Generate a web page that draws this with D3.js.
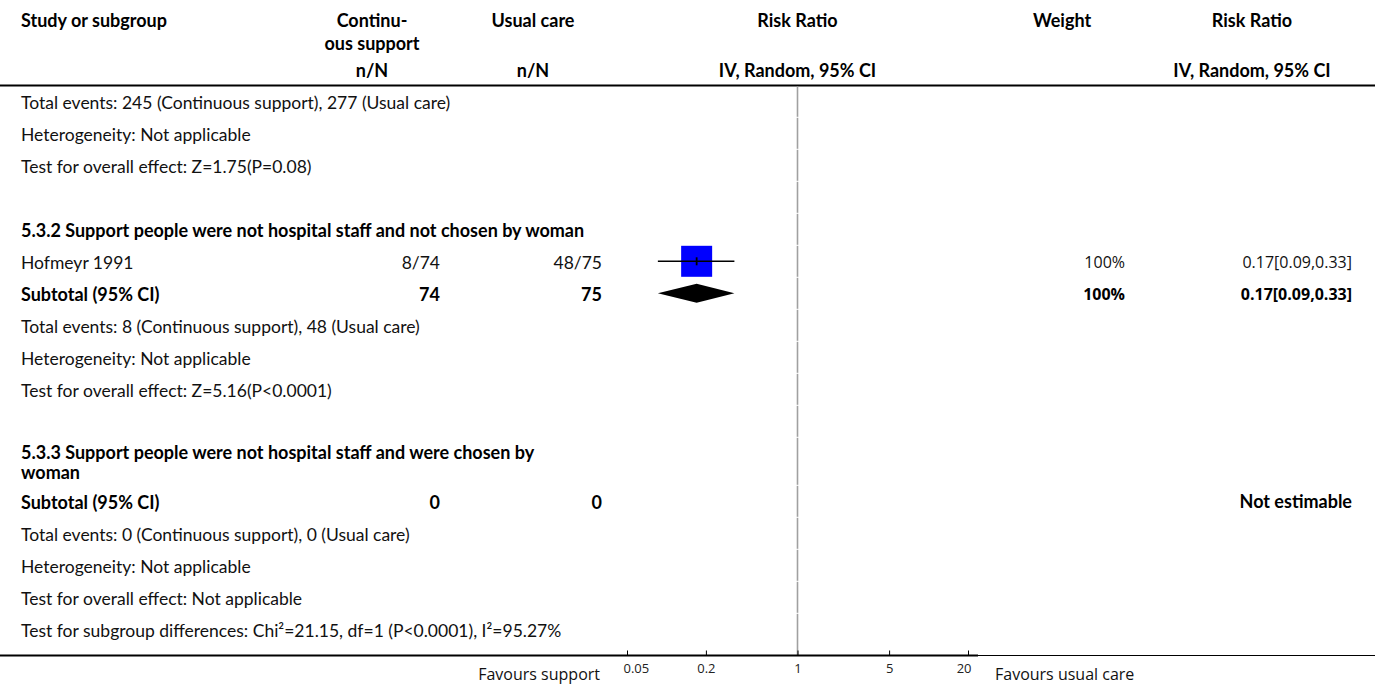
<!DOCTYPE html>
<html><head><meta charset="utf-8">
<script src="https://cdn.jsdelivr.net/npm/d3@7"></script>
<style>
html,body{margin:0;padding:0;background:#fff;}
svg{display:block;}
.t{font-family:Lato,"Noto Sans",sans-serif;font-size:17.5px;fill:#111;}
.b{font-family:Lato,"Noto Sans",sans-serif;font-weight:bold;font-size:18px;fill:#000;}
.o{font-family:"Open Sans","Noto Sans",sans-serif;font-size:16px;fill:#111;}
.ob{font-weight:bold;fill:#000;}
</style></head><body>
<svg id="c" width="1375" height="686"></svg>
<script>
// ---- data ----
const rowKinds = ["note","note","note","blank","heading","study","subtotal","note","note","note","blank","heading2","subtotal","note","note","note","note"];
const rowLabels = [
  "Total events: 245 (Continuous support), 277 (Usual care)",
  "Heterogeneity: Not applicable",
  "Test for overall effect: Z=1.75(P=0.08)",
  "",
  "5.3.2 Support people were not hospital staff and not chosen by woman",
  "Hofmeyr 1991",
  "Subtotal (95% CI)",
  "Total events: 8 (Continuous support), 48 (Usual care)",
  "Heterogeneity: Not applicable",
  "Test for overall effect: Z=5.16(P<0.0001)",
  "",
  "5.3.3 Support people were not hospital staff and were chosen by|woman",
  "Subtotal (95% CI)",
  "Total events: 0 (Continuous support), 0 (Usual care)",
  "Heterogeneity: Not applicable",
  "Test for overall effect: Not applicable",
  "Test for subgroup differences: Chi²=21.15, df=1 (P<0.0001), I²=95.27%"
];
const supportCol = ["","","","","","8/74","74","","","","","","0","","","",""];
const usualCol   = ["","","","","","48/75","75","","","","","","0","","","",""];
const weightCol  = ["","","","","","100%","100%","","","","","","","","","",""];
const rrCol      = ["","","","","","0.17[0.09,0.33]","0.17[0.09,0.33]","","","","","","Not estimable","","","",""];
const rrPoint = [null,null,null,null,null,0.17,0.17,null,null,null,null,null,null,null,null,null,null];
const rrLow   = [null,null,null,null,null,0.086,0.086,null,null,null,null,null,null,null,null,null,null];
const rrHigh  = [null,null,null,null,null,0.33,0.33,null,null,null,null,null,null,null,null,null,null];
const studyWeight = [null,null,null,null,null,100,null,null,null,null,null,null,null,null,null,null,null];
const tickValues = [0.05, 0.2, 1, 5, 20];
const headers = {study:"Study or subgroup", g1:["Continu-","ous support"], g2:"Usual care", nn:"n/N", rr:"Risk Ratio", method:"IV, Random, 95% CI", w:"Weight"};
const favours = ["Favours support","Favours usual care"];

// ---- layout ----
const svg = d3.select("#c");
const W = 1375;
const xLabel = 21;
const colG1 = {head:372, right:440}, colG2 = {head:533, right:602};
const colW = {head:1062, right:1125}, colRR = {head:1252, right:1352};
const x = d3.scaleLog().domain([0.05, 20]).range([627, 968]);
const headRuleY = 85.5, axisY = 655.5;
const kindH = {note:32, blank:32, heading:32, heading2:48, study:32, subtotal:32};
let yTop = 85.3;
const rows = rowKinds.map((k,i) => { const h = kindH[k]; const r = {i, k, top:yTop, h, cy:yTop + h/2}; yTop += h; return r; });

// header
const hdr = svg.append("g");
const htxt = (t, xx, y, anchor) => hdr.append("text").attr("class","b").attr("x",xx).attr("y",y).attr("text-anchor",anchor).text(t);
htxt(headers.study, xLabel, 27, "start");
htxt(headers.g1[0], colG1.head, 27, "middle");
htxt(headers.g1[1], colG1.head, 50, "middle");
htxt(headers.g2, colG2.head, 27, "middle");
htxt(headers.nn, colG1.head, 77, "middle");
htxt(headers.nn, colG2.head, 77, "middle");
htxt(headers.rr, x(1), 27, "middle");
htxt(headers.method, x(1), 77, "middle");
htxt(headers.w, colW.head, 27, "middle");
htxt(headers.rr, colRR.head, 27, "middle");
htxt(headers.method, colRR.head, 77, "middle");
svg.append("line").attr("x1",0).attr("x2",W).attr("y1",headRuleY).attr("y2",headRuleY).attr("stroke","#000").attr("stroke-width",1.8);

// vertical line of no effect
svg.append("g").selectAll("line").data(rows).join("line")
  .attr("x1",x(1)).attr("x2",x(1))
  .attr("y1",(d,i)=> i === 0 ? headRuleY + 1 : d.top + 0.5).attr("y2",(d,i)=> i === rows.length-1 ? axisY : d.top + d.h - 0.5)
  .attr("stroke","#a0a0a0").attr("stroke-width",1.6);

// row text
const body = svg.append("g");
rows.forEach(r => {
  const bold = (r.k === "heading" || r.k === "heading2" || r.k === "subtotal");
  const lab = rowLabels[r.i];
  const cls = bold ? "b" : "t";
  const base = r.cy + 7.5;
  if (lab) {
    const lines = lab.split("|");
    const t = body.append("text").attr("class", cls).attr("x", xLabel);
    lines.forEach((ln, j) => {
      t.append("tspan").attr("x", xLabel)
        .attr("y", base + (j - (lines.length-1)/2) * 20).text(ln);
    });
  }
  if (supportCol[r.i]) body.append("text").attr("class",cls).attr("x",colG1.right).attr("y",base).attr("text-anchor","end").text(supportCol[r.i]);
  if (usualCol[r.i]) body.append("text").attr("class",cls).attr("x",colG2.right).attr("y",base).attr("text-anchor","end").text(usualCol[r.i]);
  const rCls = "o" + (bold ? " ob" : "");
  if (weightCol[r.i]) body.append("text").attr("class",rCls).attr("x",colW.right).attr("y",base-1).attr("text-anchor","end").text(weightCol[r.i]);
  if (rrCol[r.i]) {
    const isNum = rrPoint[r.i] != null;
    body.append("text").attr("class", isNum ? rCls : "b").attr("x",colRR.right).attr("y",base-1).attr("text-anchor","end").text(rrCol[r.i]);
  }
});

// marks
const boxSize = d3.scaleSqrt().domain([0,100]).range([0,31]);
rows.filter(r => rrPoint[r.i] != null).forEach(r => {
  const p = x(rrPoint[r.i]), lo = x(rrLow[r.i]), hi = x(rrHigh[r.i]);
  if (r.k === "study") {
    const s = boxSize(studyWeight[r.i]);
    body.append("rect").attr("x",p - s/2).attr("y",r.cy - s/2).attr("width",s).attr("height",s).attr("fill","#0000ff");
    body.append("line").attr("x1",lo).attr("x2",hi).attr("y1",r.cy).attr("y2",r.cy).attr("stroke","#000").attr("stroke-width",1.5);
    body.append("line").attr("x1",p).attr("x2",p).attr("y1",r.cy-4).attr("y2",r.cy+4).attr("stroke","#000").attr("stroke-width",1.8);
  } else {
    body.append("path").attr("d", `M${lo},${r.cy}L${p},${r.cy-9.5}L${hi},${r.cy}L${p},${r.cy+9.5}Z`).attr("fill","#000");
  }
});

// axis
svg.append("line").attr("x1",0).attr("x2",978).attr("y1",axisY).attr("y2",axisY).attr("stroke","#000").attr("stroke-width",2);
svg.append("line").attr("x1",978).attr("x2",W).attr("y1",axisY).attr("y2",axisY).attr("stroke","#000").attr("stroke-width",1.2);
const ax = svg.append("g").attr("transform",`translate(0,${axisY})`)
  .call(d3.axisBottom(x).tickValues(tickValues).tickFormat(d3.format("")).tickSizeInner(-5).tickSizeOuter(0).tickPadding(8));
ax.select(".domain").remove();
ax.selectAll(".tick line").attr("stroke","#000");
ax.selectAll(".tick text").attr("font-family","'Open Sans','Noto Sans',sans-serif").attr("font-size",13).attr("fill","#222")
  .attr("text-anchor",(d,i)=> i === 0 ? "start" : (i === tickValues.length-1 ? "end" : "middle"))
  .attr("dx",(d,i)=> i === 0 ? -4 : (i === tickValues.length-1 ? 3 : 0));
svg.append("text").attr("class","o").attr("x",600).attr("y",axisY+24).attr("text-anchor","end").text(favours[0]);
svg.append("text").attr("class","o").attr("x",995).attr("y",axisY+24).attr("text-anchor","start").text(favours[1]);
</script></body></html>
